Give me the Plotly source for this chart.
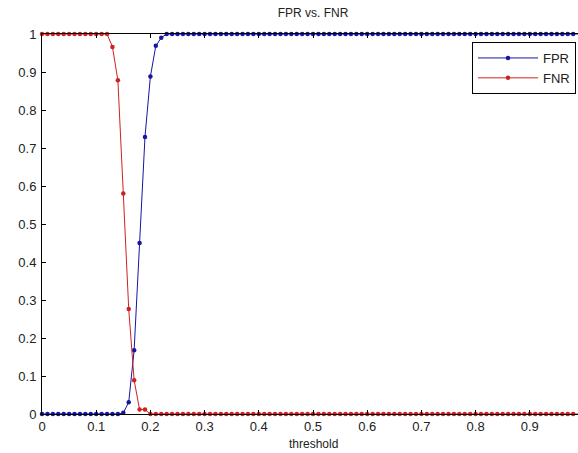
import plotly.graph_objects as go

threshold = [round(i * 0.01, 2) for i in range(101)]

fpr = [0, 0, 0, 0, 0, 0, 0, 0, 0, 0,
       0, 0, 0, 0, 0, 0.003, 0.031, 0.168, 0.45, 0.729,
       0.888, 0.969, 0.99, 1, 1, 1, 1, 1, 1, 1,
       1, 1, 1, 1, 1, 1, 1, 1, 1, 1,
       1, 1, 1, 1, 1, 1, 1, 1, 1, 1,
       1, 1, 1, 1, 1, 1, 1, 1, 1, 1,
       1, 1, 1, 1, 1, 1, 1, 1, 1, 1,
       1, 1, 1, 1, 1, 1, 1, 1, 1, 1,
       1, 1, 1, 1, 1, 1, 1, 1, 1, 1,
       1, 1, 1, 1, 1, 1, 1, 1, 1, 1,
       1]

fnr = [1, 1, 1, 1, 1, 1, 1, 1, 1, 1,
       1, 1, 1, 0.966, 0.878, 0.58, 0.276, 0.089, 0.012, 0.012,
       0, 0, 0, 0, 0, 0, 0, 0, 0, 0,
       0, 0, 0, 0, 0, 0, 0, 0, 0, 0,
       0, 0, 0, 0, 0, 0, 0, 0, 0, 0,
       0, 0, 0, 0, 0, 0, 0, 0, 0, 0,
       0, 0, 0, 0, 0, 0, 0, 0, 0, 0,
       0, 0, 0, 0, 0, 0, 0, 0, 0, 0,
       0, 0, 0, 0, 0, 0, 0, 0, 0, 0,
       0, 0, 0, 0, 0, 0, 0, 0, 0, 0,
       0]

x_ticks = [0, 0.1, 0.2, 0.3, 0.4, 0.5, 0.6, 0.7, 0.8, 0.9, 1]
x_tick_labels = ["0", "0.1", "0.2", "0.3", "0.4", "0.5", "0.6", "0.7", "0.8", "0.9", "1"]
y_ticks = [0, 0.1, 0.2, 0.3, 0.4, 0.5, 0.6, 0.7, 0.8, 0.9, 1]
y_tick_labels = ["0", "0.1", "0.2", "0.3", "0.4", "0.5", "0.6", "0.7", "0.8", "0.9", "1"]

BLUE = "#16169e"
RED = "#cc2222"
FONT = "Liberation Sans, Arial, sans-serif"
TXT = "#222222"

fig = go.Figure()
fig.add_trace(go.Scatter(x=threshold, y=fpr, name="FPR", mode="lines+markers",
                         line=dict(color=BLUE, width=1),
                         marker=dict(color=BLUE, size=4.5, symbol="circle"),
                         cliponaxis=False))
fig.add_trace(go.Scatter(x=threshold, y=fnr, name="FNR", mode="lines+markers",
                         line=dict(color=RED, width=1),
                         marker=dict(color=RED, size=4.5, symbol="circle"),
                         cliponaxis=False))

W, H = 578, 453
L, T, B = 42, 34, 39
plot_w = W - L
plot_h = H - T - B
# full axis 0..1 spans 542 px; the right part is cut off by the window
x_max = plot_w / 542.0

fig.update_layout(
    width=W, height=H,
    margin=dict(l=L, r=0, t=T, b=B, pad=0, autoexpand=False),
    paper_bgcolor="white", plot_bgcolor="white",
    font=dict(family=FONT, size=12, color=TXT),
    title=dict(text="FPR vs. FNR", x=(L + 271) / W, xanchor="center",
               y=1 - 13 / H, yanchor="middle",
               font=dict(family=FONT, size=12, color=TXT)),
    showlegend=True,
    legend=dict(x=(576 - L) / plot_w, xanchor="right",
                y=(H - B - 42) / plot_h, yanchor="top",
                bgcolor="white", bordercolor="black", borderwidth=1,
                font=dict(family=FONT, size=13, color=TXT),
                itemwidth=60, tracegroupgap=0),
    xaxis=dict(range=[0, x_max], tickmode="array", tickvals=x_ticks,
               ticktext=x_tick_labels, ticks="inside", ticklen=4,
               tickcolor="black", showline=True, linecolor="black",
               linewidth=1, mirror="ticks", showgrid=False, zeroline=False,
               automargin=False,
               tickfont=dict(family=FONT, size=13, color=TXT)),
    yaxis=dict(range=[0, 1], tickmode="array", tickvals=y_ticks,
               ticktext=y_tick_labels, ticks="inside", ticklen=4,
               tickcolor="black", showline=True, linecolor="black",
               linewidth=1, mirror=False, showgrid=False, zeroline=False,
               automargin=False, ticklabelstandoff=2,
               tickfont=dict(family=FONT, size=13, color=TXT)),
    annotations=[dict(text="threshold", x=(271) / plot_w, xref="paper",
                      xanchor="center", y=-(444 - (H - B)) / plot_h,
                      yref="paper", yanchor="middle", showarrow=False,
                      font=dict(family=FONT, size=12, color=TXT))],
)

fig.write_html("out.html", config={"displayModeBar": False},
               post_script="document.body.style.margin='0';"
                           "document.body.style.overflow='hidden';")
